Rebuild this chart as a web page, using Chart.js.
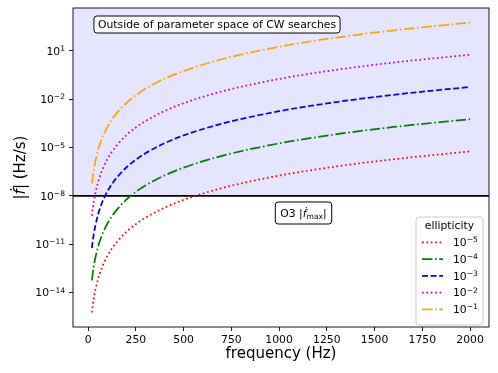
<!DOCTYPE html>
<html><head><meta charset="utf-8">
<script src="https://cdn.jsdelivr.net/npm/chart.js@4/dist/chart.umd.min.js"></script>
<style>html,body{margin:0;padding:0;background:#fff;}canvas{display:block;}</style>
</head><body>
<canvas id="c" width="498" height="373"></canvas>
<script>
// ---- data ----
const frequencies = [20, 22, 25, 30, 35, 40, 50, 60, 70, 80, 100, 125, 150, 200, 250, 300, 400, 500, 700, 1000, 1300, 1600, 2000];
const fdotEps1e5 = [5.75e-16, 9.27e-16, 1.76e-15, 4.37e-15, 9.44e-15, 1.84e-14, 5.62e-14, 1.40e-13, 3.02e-13, 5.89e-13, 1.80e-12, 5.48e-12, 1.36e-11, 5.75e-11, 1.76e-10, 4.37e-10, 1.84e-9, 5.62e-9, 3.02e-8, 1.80e-7, 6.68e-7, 1.88e-6, 5.75e-6];
const fdotEps1e4 = [5.75e-14, 9.27e-14, 1.76e-13, 4.37e-13, 9.44e-13, 1.84e-12, 5.62e-12, 1.40e-11, 3.02e-11, 5.89e-11, 1.80e-10, 5.48e-10, 1.36e-9, 5.75e-9, 1.76e-8, 4.37e-8, 1.84e-7, 5.62e-7, 3.02e-6, 1.80e-5, 6.68e-5, 1.88e-4, 5.75e-4];
const fdotEps1e3 = [5.75e-12, 9.27e-12, 1.76e-11, 4.37e-11, 9.44e-11, 1.84e-10, 5.62e-10, 1.40e-9, 3.02e-9, 5.89e-9, 1.80e-8, 5.48e-8, 1.36e-7, 5.75e-7, 1.76e-6, 4.37e-6, 1.84e-5, 5.62e-5, 3.02e-4, 1.80e-3, 6.68e-3, 1.88e-2, 5.75e-2];
const fdotEps1e2 = [5.75e-10, 9.27e-10, 1.76e-9, 4.37e-9, 9.44e-9, 1.84e-8, 5.62e-8, 1.40e-7, 3.02e-7, 5.89e-7, 1.80e-6, 5.48e-6, 1.36e-5, 5.75e-5, 1.76e-4, 4.37e-4, 1.84e-3, 5.62e-3, 3.02e-2, 1.80e-1, 6.68e-1, 1.88, 5.75];
const fdotEps1e1 = [5.75e-8, 9.27e-8, 1.76e-7, 4.37e-7, 9.44e-7, 1.84e-6, 5.62e-6, 1.40e-5, 3.02e-5, 5.89e-5, 1.80e-4, 5.48e-4, 1.36e-3, 5.75e-3, 1.76e-2, 4.37e-2, 1.84e-1, 5.62e-1, 3.02, 18.0, 66.8, 188, 575];
const ellipticityExponents = [-5, -4, -3, -2, -1];
const seriesLabels = ['10\u207B\u2075', '10\u207B\u2074', '10\u207B\u00B3', '10\u207B\u00B2', '10\u207B\u00B9'];
const xTickValues = [0, 250, 500, 750, 1000, 1250, 1500, 1750, 2000];
const yTickExponents = [-14, -11, -8, -5, -2, 1];
const o3FdotMax = 1e-8;
const outsideText = 'Outside of parameter space of CW searches';
const legendTitle = 'ellipticity';
const xTitle = 'frequency (Hz)';

// ---- styles ----
const FONT = "'DejaVu Sans', sans-serif";
const LW = 1.75;
const DOT = [1.7, 2.7], DASH = [6, 2.6], DASHDOT = [10.4, 2.6, 1.7, 2.6];
const seriesStyles = [
  {color: '#ff0000', dash: DOT},
  {color: '#008000', dash: DASHDOT},
  {color: '#0000ff', dash: DASH},
  {color: '#bf00bf', dash: DOT},
  {color: '#ffa500', dash: DASHDOT}
];
const seriesValues = [fdotEps1e5, fdotEps1e4, fdotEps1e3, fdotEps1e2, fdotEps1e1];

const datasets = seriesValues.map((vals, i) => ({
  label: seriesLabels[i],
  data: frequencies.map((f, j) => ({x: f, y: vals[j]})),
  borderColor: seriesStyles[i].color,
  borderDash: seriesStyles[i].dash,
  borderWidth: LW,
  borderCapStyle: 'butt',
  pointRadius: 0,
  fill: false,
  cubicInterpolationMode: 'monotone'
}));

function drawPow(ctx, base, exp, x, y, size, align) {
  const sup = exp < 0 ? '\u2212' + Math.abs(exp) : String(exp);
  ctx.font = size + 'px ' + FONT;
  const wb = ctx.measureText(base).width;
  ctx.font = (size * 0.7) + 'px ' + FONT;
  const ws = ctx.measureText(sup).width;
  const x0 = align === 'right' ? x - wb - ws : x;
  ctx.textAlign = 'left';
  ctx.textBaseline = 'alphabetic';
  ctx.font = size + 'px ' + FONT;
  ctx.fillText(base, x0, y);
  ctx.font = (size * 0.7) + 'px ' + FONT;
  ctx.fillText(sup, x0 + wb, y - size * 0.36);
}

function roundRect(ctx, x, y, w, h, r) {
  ctx.beginPath();
  ctx.moveTo(x + r, y);
  ctx.lineTo(x + w - r, y);
  ctx.quadraticCurveTo(x + w, y, x + w, y + r);
  ctx.lineTo(x + w, y + h - r);
  ctx.quadraticCurveTo(x + w, y + h, x + w - r, y + h);
  ctx.lineTo(x + r, y + h);
  ctx.quadraticCurveTo(x, y + h, x, y + h - r);
  ctx.lineTo(x, y + r);
  ctx.quadraticCurveTo(x, y, x + r, y);
  ctx.closePath();
}

const decorations = {
  id: 'decorations',
  beforeDatasetsDraw(chart) {
    const {ctx, chartArea: a, scales: {y}} = chart;
    const yl = y.getPixelForValue(o3FdotMax);
    ctx.save();
    ctx.fillStyle = 'rgb(229,229,253)';
    ctx.fillRect(a.left, a.top, a.right - a.left, yl - a.top);
    ctx.strokeStyle = '#000';
    ctx.lineWidth = 1.6;
    ctx.beginPath();
    ctx.moveTo(a.left, yl);
    ctx.lineTo(a.right, yl);
    ctx.stroke();
    ctx.restore();
  },
  afterDraw(chart) {
    const {ctx, chartArea: a, scales: {x, y}} = chart;
    ctx.save();
    // spines
    ctx.strokeStyle = '#000';
    ctx.lineWidth = 0.9;
    ctx.strokeRect(a.left, a.top, a.right - a.left, a.bottom - a.top);
    // y tick labels
    ctx.fillStyle = '#000';
    yTickExponents.forEach(e => {
      const ty = y.getPixelForValue(Math.pow(10, e));
      drawPow(ctx, '10', e, a.left - 8, ty + 3.9, 10.8, 'right');
    });
    // x title
    ctx.font = '15px ' + FONT;
    ctx.textAlign = 'center';
    ctx.textBaseline = 'alphabetic';
    ctx.fillText(xTitle, (a.left + a.right) / 2, 357.5);
    // y title  |ḟ| (Hz/s)
    ctx.save();
    ctx.translate(25, (a.top + a.bottom) / 2);
    ctx.rotate(-Math.PI / 2);
    const parts = [['|', ''], ['\u1E1F', 'italic '], ['| (Hz/s)', '']];
    let tw = 0;
    parts.forEach(p => { ctx.font = p[1] + '15px ' + FONT; tw += ctx.measureText(p[0]).width; });
    let px = -tw / 2;
    ctx.textAlign = 'left';
    parts.forEach(p => { ctx.font = p[1] + '15px ' + FONT; ctx.fillText(p[0], px, 0); px += ctx.measureText(p[0]).width; });
    ctx.restore();

    // annotation 1
    ctx.font = '10.8px ' + FONT;
    const w1 = ctx.measureText(outsideText).width;
    const cx1 = 217, cy1 = 24.5;
    roundRect(ctx, cx1 - w1 / 2 - 4, cy1 - 8.5, w1 + 8, 17, 3);
    ctx.fillStyle = '#fff'; ctx.fill();
    ctx.strokeStyle = '#000'; ctx.lineWidth = 1; ctx.stroke();
    ctx.fillStyle = '#000';
    ctx.textAlign = 'center'; ctx.textBaseline = 'middle';
    ctx.fillText(outsideText, cx1, cy1 + 0.5);

    // annotation 2: O3 |ḟ_max|
    const aParts = [['O3 |', '', 10.8, 0], ['\u1E1F', 'italic ', 10.8, 0], ['max', '', 7.6, 2.4], ['|', '', 10.8, 0]];
    let w2 = 0;
    aParts.forEach(p => { ctx.font = p[1] + p[2] + 'px ' + FONT; w2 += ctx.measureText(p[0]).width; });
    const cx2 = 303.5, cy2 = 213;
    roundRect(ctx, cx2 - w2 / 2 - 5, cy2 - 11, w2 + 10, 22, 3);
    ctx.fillStyle = '#fff'; ctx.fill();
    ctx.strokeStyle = '#000'; ctx.lineWidth = 1; ctx.stroke();
    ctx.fillStyle = '#000';
    ctx.textAlign = 'left'; ctx.textBaseline = 'alphabetic';
    let ax = cx2 - w2 / 2;
    aParts.forEach(p => { ctx.font = p[1] + p[2] + 'px ' + FONT; ctx.fillText(p[0], ax, cy2 + 4 + p[3]); ax += ctx.measureText(p[0]).width; });

    // legend
    const lx = 416, ly = 217, lw = 67, lh = 108;
    roundRect(ctx, lx, ly, lw, lh, 3);
    ctx.fillStyle = 'rgba(255,255,255,0.8)'; ctx.fill();
    ctx.strokeStyle = '#cccccc'; ctx.lineWidth = 1; ctx.stroke();
    ctx.fillStyle = '#000';
    ctx.font = '10.8px ' + FONT;
    ctx.textAlign = 'center'; ctx.textBaseline = 'middle';
    ctx.fillText(legendTitle, lx + lw / 2, 226);
    chart.data.datasets.forEach((ds, i) => {
      const ry = 242.3 + i * 16.75;
      ctx.save();
      ctx.strokeStyle = ds.borderColor;
      ctx.lineWidth = LW;
      ctx.setLineDash(ds.borderDash);
      ctx.beginPath();
      ctx.moveTo(422, ry); ctx.lineTo(443, ry);
      ctx.stroke();
      ctx.restore();
      ctx.fillStyle = '#000';
      drawPow(ctx, '10', ellipticityExponents[i], 453, ry + 3.9, 10.8, 'left');
    });
    ctx.restore();
  }
};

new Chart(document.getElementById('c'), {
  type: 'line',
  data: {datasets},
  options: {
    responsive: false,
    devicePixelRatio: 1,
    animation: false,
    layout: {padding: {left: 0, right: 9, top: 8, bottom: 0}},
    plugins: {legend: {display: false}, tooltip: {enabled: false}},
    scales: {
      x: {
        type: 'linear',
        min: -79, max: 2099,
        afterBuildTicks: s => { s.ticks = xTickValues.map(v => ({value: v})); },
        afterFit: s => { s.height = 46; },
        ticks: {callback: v => String(v), color: '#000', font: {family: FONT, size: 10.8}, padding: 3, maxRotation: 0, autoSkip: false},
        grid: {drawOnChartArea: false, drawTicks: true, tickLength: 4, color: '#000', lineWidth: 0.9},
        border: {display: false}
      },
      y: {
        type: 'logarithmic',
        min: Math.pow(10, -16.14), max: Math.pow(10, 3.66),
        afterBuildTicks: s => { s.ticks = yTickExponents.map(e => ({value: Math.pow(10, e)})); },
        afterFit: s => { s.width = 73; },
        ticks: {display: false},
        grid: {drawOnChartArea: false, drawTicks: true, tickLength: 4, color: '#000', lineWidth: 0.9},
        border: {display: false}
      }
    }
  },
  plugins: [decorations]
});
</script>
</body></html>
